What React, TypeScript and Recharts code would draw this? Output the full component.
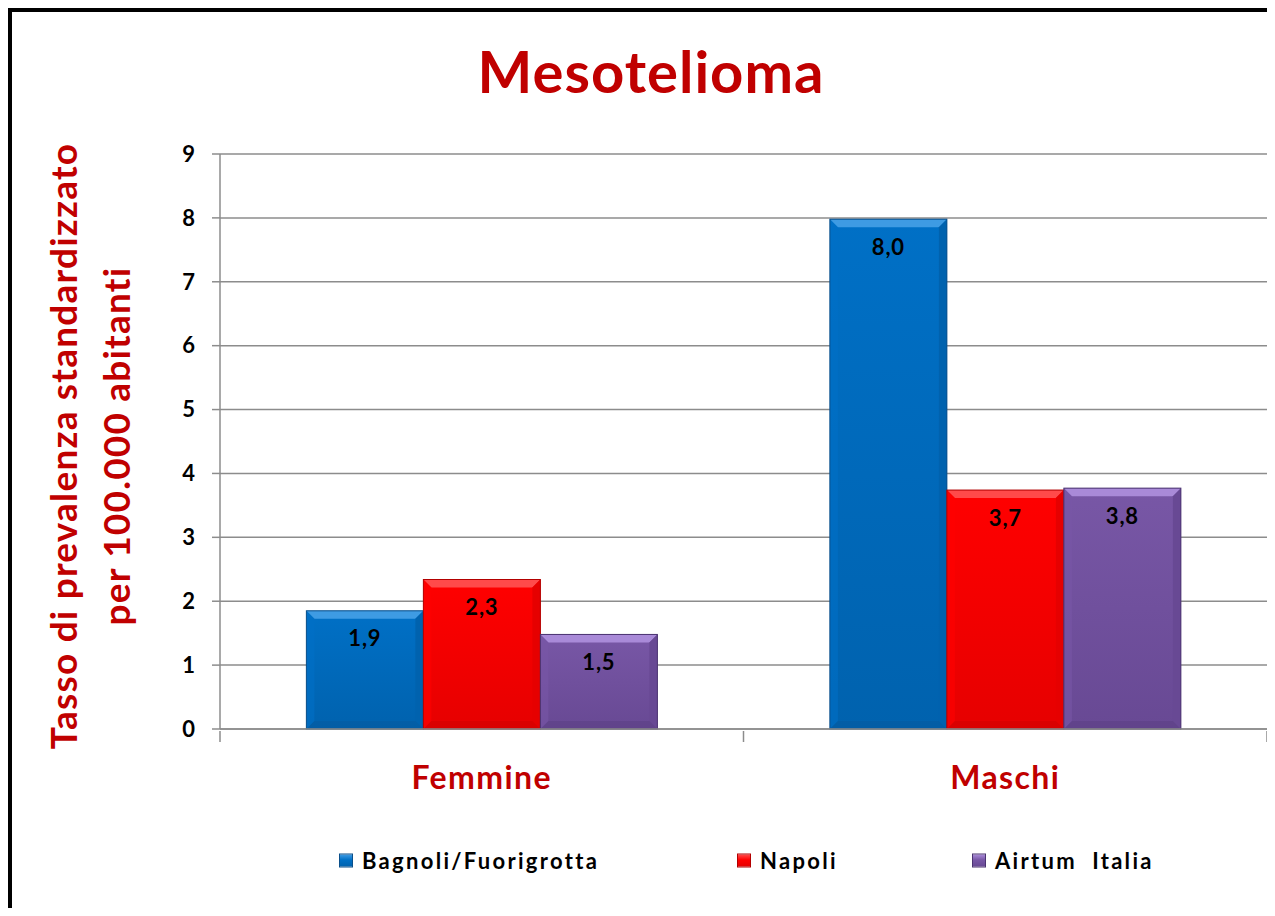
import { Bar, BarChart, CartesianGrid, LabelList, XAxis, YAxis } from 'recharts'

const categories = ['Femmine', 'Maschi']
const bagnoli = [1.85, 7.98]
const napoli = [2.34, 3.74]
const airtum = [1.48, 3.77]
const yTicks = [0, 1, 2, 3, 4, 5, 6, 7, 8, 9]

const seriesNames = ['Bagnoli/Fuorigrotta', 'Napoli', 'Airtum  Italia']

const data = categories.map((name, i) => ({
  name,
  bagnoli: bagnoli[i],
  napoli: napoli[i],
  airtum: airtum[i],
}))

const FONT = 'Lato, "Open Sans", sans-serif'
const RED = '#C00000'
const GRID = '#8C8C8C'

const tones = {
  bagnoli: { fill: '#0070C6', top: '#3E9BE3', side: '#0062AE', edge: '#0A4F8A' },
  napoli: { fill: '#FF0000', top: '#FF4A4A', side: '#E60000', edge: '#B30000' },
  airtum: { fill: '#7857A6', top: '#A98AD8', side: '#684994', edge: '#4A3370' },
}

type Tone = { fill: string; top: string; side: string; edge: string }

function BevelBar(props: any) {
  const { x, y, width, height } = props
  const tone: Tone = props.tone
  if (!height || height <= 0) return null
  const b = Math.min(8, width / 4, height / 4)
  const gid = 'g' + tone.fill.slice(1)
  return (
    <g>
      <defs>
        <linearGradient id={gid} x1="0" y1="0" x2="0" y2="1">
          <stop offset="0%" stopColor={tone.fill} />
          <stop offset="100%" stopColor={tone.side} />
        </linearGradient>
      </defs>
      <rect x={x} y={y} width={width} height={height} fill={`url(#${gid})`} />
      <polygon
        points={`${x},${y} ${x + width},${y} ${x + width - b},${y + b} ${x + b},${y + b}`}
        fill={tone.top}
      />
      <polygon
        points={`${x},${y} ${x + b},${y + b} ${x + b},${y + height - b} ${x},${y + height}`}
        fill={tone.fill}
        opacity={0.6}
      />
      <polygon
        points={`${x + width},${y} ${x + width - b},${y + b} ${x + width - b},${y + height - b} ${x + width},${y + height}`}
        fill={tone.side}
      />
      <polygon
        points={`${x},${y + height} ${x + b},${y + height - b} ${x + width - b},${y + height - b} ${x + width},${y + height}`}
        fill={tone.edge}
        opacity={0.25}
      />
      <rect x={x} y={y} width={width} height={height} fill="none" stroke={tone.edge} strokeWidth={1} />
    </g>
  )
}

const fmt = (v: any) => Number(v).toFixed(1).replace('.', ',')

// category label plus Excel-style tick marks at the category boundaries
function CategoryTick(props: any) {
  const { x, y, payload, index, width } = props
  const n = categories.length
  const half = width / (2 * n)
  const isLast = index === n - 1
  return (
    <g>
      <line x1={x - half} x2={x - half} y1={y} y2={y + 11} stroke={GRID} strokeWidth={1.5} />
      {isLast ? (
        <line x1={x + half} x2={x + half} y1={y} y2={y + 11} stroke={GRID} strokeWidth={1.5} />
      ) : null}
      <text
        x={x}
        y={y + 35}
        dy="0.71em"
        textAnchor="middle"
        fill={RED}
        fontSize={32}
        fontWeight={700}
        fontFamily={FONT}
        letterSpacing={1.4}
      >
        {payload.value}
      </text>
    </g>
  )
}

function YTitle() {
  const cy = 438
  return (
    <g fontFamily={FONT} fontWeight={700} fontSize={37} fill={RED} letterSpacing={1.2}>
      <text x={69} y={cy} textAnchor="middle" transform={`rotate(-90 69 ${cy})`}>
        Tasso di prevalenza standardizzato
      </text>
      <text x={122} y={cy} textAnchor="middle" transform={`rotate(-90 122 ${cy})`}>
        per 100.000 abitanti
      </text>
    </g>
  )
}

const legendItems = [
  { key: 'bagnoli', left: 331 },
  { key: 'napoli', left: 729 },
  { key: 'airtum', left: 964 },
]

export default function App() {
  const keys = ['bagnoli', 'napoli', 'airtum'] as const
  return (
    <div style={{ position: 'relative', width: 1267, height: 900, overflow: 'hidden', fontFamily: FONT }}>
      <div
        style={{
          position: 'absolute',
          left: 0,
          top: 0,
          width: 1400,
          height: 1000,
          borderLeft: '4px solid #000',
          borderTop: '4px solid #000',
        }}
      />
      <div
        style={{
          position: 'absolute',
          left: 643,
          top: 34,
          transform: 'translateX(-50%)',
          color: RED,
          fontSize: 58,
          fontWeight: 700,
          letterSpacing: 1,
          lineHeight: 1,
          whiteSpace: 'nowrap',
        }}
      >
        Mesotelioma
      </div>
      <div style={{ position: 'absolute', left: 0, top: 0 }}>
        <BarChart
          width={1267}
          height={900}
          data={data}
          margin={{ top: 146, right: 8, left: 0, bottom: 119 }}
          barCategoryGap="16.5%"
          barGap={0}
        >
          <CartesianGrid vertical={false} stroke={GRID} strokeWidth={1.5} />
          <XAxis
            dataKey="name"
            height={60}
            tickSize={0}
            axisLine={{ stroke: GRID, strokeWidth: 1.5 }}
            tickLine={false}
            tick={<CategoryTick />}
          />
          <YAxis
            width={212}
            domain={[0, 9]}
            ticks={yTicks}
            interval={0}
            tickSize={8}
            tickMargin={17}
            axisLine={{ stroke: GRID, strokeWidth: 1.5 }}
            tickLine={{ stroke: GRID, strokeWidth: 1.5 }}
            tick={{ fill: '#000', fontSize: 22, fontWeight: 700, fontFamily: FONT }}
            label={{ content: <YTitle /> }}
          />
          {keys.map((k, i) => (
            <Bar
              key={k}
              dataKey={k}
              name={seriesNames[i]}
              fill={tones[k].fill}
              isAnimationActive={false}
              shape={(p: any) => <BevelBar {...p} tone={tones[k]} />}
            >
              <LabelList
                dataKey={k}
                position="insideTop"
                offset={20}
                formatter={fmt}
                fill="#000"
                fontSize={22}
                fontWeight={700}
                fontFamily={FONT}
                letterSpacing={0.8}
              />
            </Bar>
          ))}
        </BarChart>
      </div>
      {legendItems.map((it, i) => {
        const tone = tones[it.key as keyof typeof tones]
        return (
          <div
            key={it.key}
            style={{
              position: 'absolute',
              left: it.left,
              top: 852,
              transform: 'translateY(-50%)',
              display: 'flex',
              alignItems: 'center',
              whiteSpace: 'pre',
            }}
          >
            <span
              style={{
                display: 'inline-block',
                width: 14,
                height: 14,
                background: `linear-gradient(${tone.top}, ${tone.fill} 45%, ${tone.side})`,
                border: `1px solid ${tone.edge}`,
                boxSizing: 'border-box',
                marginRight: 9,
              }}
            />
            <span style={{ fontSize: 22, fontWeight: 700, color: '#000', letterSpacing: 2.3 }}>
              {seriesNames[i]}
            </span>
          </div>
        )
      })}
    </div>
  )
}
